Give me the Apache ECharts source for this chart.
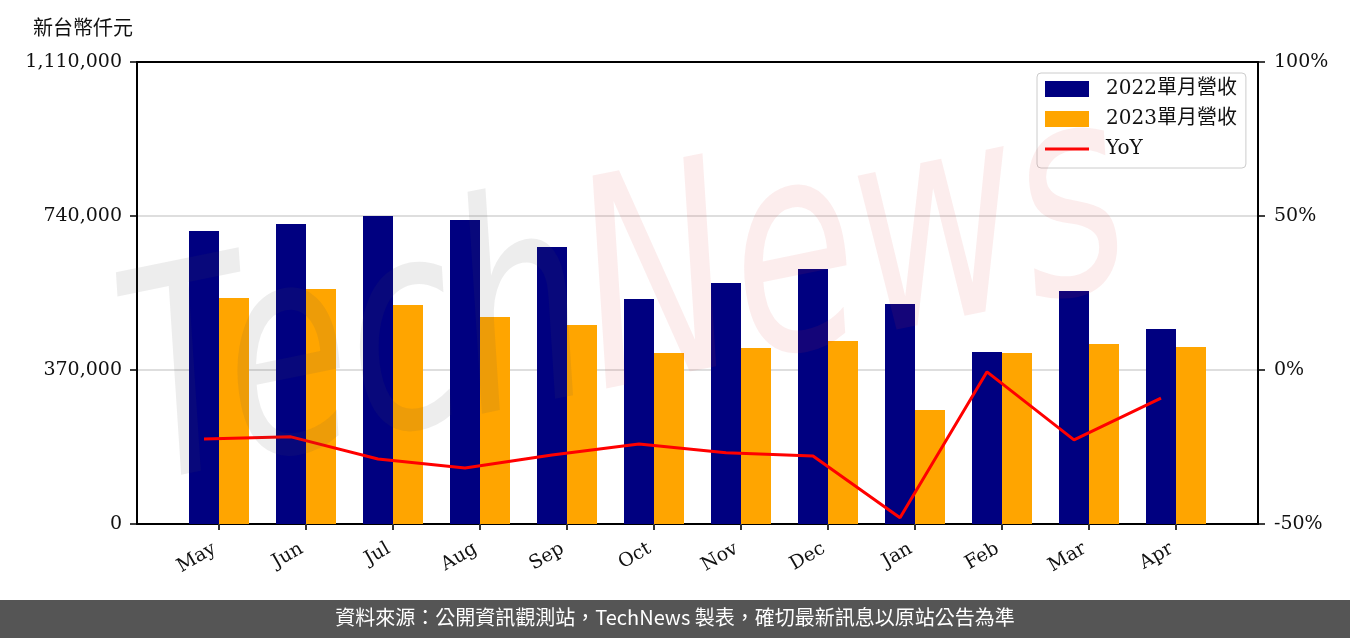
<!DOCTYPE html>
<html>
<head>
<meta charset="utf-8">
<script src="https://cdn.jsdelivr.net/npm/echarts@6/dist/echarts.min.js"></script>
<style>
html,body{margin:0;padding:0;background:#fff;}
#chart{width:1350px;height:638px;}
</style>
</head>
<body>
<div id="chart"></div>
<script>
var months = ['May','Jun','Jul','Aug','Sep','Oct','Nov','Dec','Jan','Feb','Mar','Apr'];
var rev2022 = [704000, 720800, 740000, 730400, 665500, 540600, 579000, 612700, 528600, 413200, 559800, 468500];
var rev2023 = [543000, 564600, 526200, 497300, 478100, 410800, 422900, 439700, 273900, 410800, 432500, 425300];
var yoy = [-22.4, -21.7, -28.9, -31.8, -27.6, -24.0, -26.9, -27.9, -48.0, -0.6, -22.7, -9.1];
var leftTicks = [0, 370000, 740000, 1110000];
var rightTicks = [-50, 0, 50, 100];
var seriesNames = ['2022單月營收', '2023單月營收', 'YoY'];
var unitLabel = '新台幣仟元';
var footerText = '資料來源：公開資訊觀測站，TechNews 製表，確切最新訊息以原站公告為準';

var serif = '"DejaVu Serif", "Noto Sans CJK TC", serif';
var sans = '"Noto Sans CJK TC", "Noto Sans", sans-serif';

function fmtThousands(v) {
  var s = String(Math.round(v));
  return s.replace(/\B(?=(\d{3})+(?!\d))/g, ',');
}

var chart = echarts.init(document.getElementById('chart'), null, {renderer: 'canvas'});

var G_TOP = 62, G_BOTTOM = 114;
var lineIcon = 'path://M0,0 L0.001,0 L0.001,0.001 Z M0,6.5 L44,6.5 L44,9.5 L0,9.5 Z M43.999,16 L44,16 L44,15.999 Z';
var option = {
  animation: false,
  backgroundColor: '#ffffff',
  title: {
    text: unitLabel,
    left: 28, top: 15,
    textStyle: {fontSize: 20, fontWeight: 'normal', color: '#111', fontFamily: serif}
  },
  legend: {
    orient: 'vertical',
    left: 1037, top: 73,
    data: [
      {name: seriesNames[0], icon: 'rect'},
      {name: seriesNames[1], icon: 'rect'},
      {name: seriesNames[2], icon: lineIcon}
    ],
    itemWidth: 44, itemHeight: 16, itemGap: 10,
    padding: [6, 9, 9, 8],
    borderColor: '#cccccc', borderWidth: 1, borderRadius: 4,
    backgroundColor: 'rgba(255,255,255,0.8)',
    textStyle: {fontSize: 20, fontFamily: serif, color: '#111', lineHeight: 20, padding: [0, 0, 0, 12]}
  },
  grid: [
    {left: 137, right: 92, top: G_TOP, bottom: G_BOTTOM},
    {left: 175.5, width: 1044, top: G_TOP, bottom: G_BOTTOM},
    {left: 160.5, width: 1044, top: G_TOP, bottom: G_BOTTOM}
  ],
  xAxis: [
    {gridIndex: 0, type: 'value', min: 0, max: 1, position: 'bottom',
      axisLine: {show: true, onZero: false, lineStyle: {color: '#000', width: 2}},
      axisTick: {show: false}, axisLabel: {show: false}, splitLine: {show: false}},
    {gridIndex: 0, type: 'value', min: 0, max: 1, position: 'top',
      axisLine: {show: true, onZero: false, lineStyle: {color: '#000', width: 2}},
      axisTick: {show: false}, axisLabel: {show: false}, splitLine: {show: false}},
    {gridIndex: 1, type: 'category', data: months, position: 'bottom',
      axisLine: {show: false, onZero: false},
      axisTick: {show: true, alignWithLabel: true, length: 6, lineStyle: {color: '#333', width: 2}},
      axisLabel: {rotate: 30, margin: 21, fontSize: 19, fontFamily: serif, color: '#111', padding: [0, 5, 0, 0]},
      splitLine: {show: false}},
    {gridIndex: 2, type: 'category', data: months, show: false}
  ],
  yAxis: [
    {gridIndex: 0, type: 'value', min: 0, max: 1110000, interval: 370000, position: 'left',
      axisLine: {show: true, onZero: false, lineStyle: {color: '#000', width: 2}},
      axisTick: {show: true, length: 7, lineStyle: {color: '#000', width: 1.5}},
      axisLabel: {margin: 15, fontSize: 19, fontFamily: serif, color: '#111',
        formatter: function (v) { return fmtThousands(v); }},
      splitLine: {show: true, lineStyle: {color: '#d3d3d3', width: 1.5}}},
    {gridIndex: 0, type: 'value', min: -50, max: 100, interval: 50, position: 'right',
      axisLine: {show: true, onZero: false, lineStyle: {color: '#000', width: 2}},
      axisTick: {show: true, length: 7, lineStyle: {color: '#000', width: 1.5}},
      axisLabel: {margin: 16, fontSize: 19, fontFamily: serif, color: '#111',
        formatter: function (v) { return v + '%'; }},
      splitLine: {show: false}},
    {gridIndex: 1, type: 'value', min: 0, max: 1110000, show: false, splitLine: {show: false}},
    {gridIndex: 2, type: 'value', min: -50, max: 100, show: false, splitLine: {show: false}}
  ],
  series: [
    {name: seriesNames[0], type: 'bar', xAxisIndex: 2, yAxisIndex: 2, data: rev2022,
      barWidth: 30, barGap: '0%', itemStyle: {color: '#000080'}},
    {name: seriesNames[1], type: 'bar', xAxisIndex: 2, yAxisIndex: 2, data: rev2023,
      barWidth: 30, barGap: '0%', itemStyle: {color: '#ffa500'}},
    {name: seriesNames[2], type: 'line', xAxisIndex: 3, yAxisIndex: 3, data: yoy,
      symbol: 'none', lineStyle: {color: '#ff0000', width: 3}, itemStyle: {color: '#ff0000'}, z: 5}
  ],
  graphic: [
    {type: 'text', x: 160, y: 550, rotation: 0.2, scaleX: 0.7, z: 50, silent: true,
      style: {
        text: '{a|Tech}{b|News}',
        align: 'left', verticalAlign: 'bottom',
        fontSize: 290, fontStyle: 'italic', fontFamily: '"DejaVu Sans", sans-serif',
        rich: {
          a: {fontSize: 290, fontStyle: 'italic', fontFamily: '"DejaVu Sans", sans-serif', fill: 'rgba(75,75,75,0.10)', color: 'rgba(75,75,75,0.10)'},
          b: {fontSize: 290, fontStyle: 'italic', fontFamily: '"DejaVu Sans", sans-serif', fill: 'rgba(220,50,50,0.09)', color: 'rgba(220,50,50,0.09)'}
        }
      }},
    {type: 'rect', left: 0, top: 600, z: 60, silent: true,
      shape: {width: 1350, height: 38}, style: {fill: '#555555'}},
    {type: 'text', left: 'center', top: 607, z: 61, silent: true,
      style: {text: footerText, fontSize: 20, fontFamily: sans, fill: '#ffffff'}}
  ]
};
chart.setOption(option);
</script>
</body>
</html>
